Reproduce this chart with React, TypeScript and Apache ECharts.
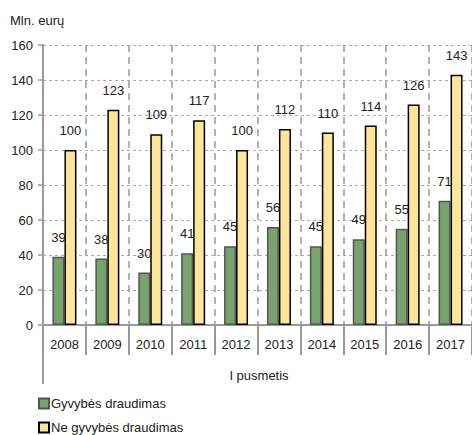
import React, { useEffect, useRef } from "react";
import * as echarts from "echarts";

const categories = ["2008", "2009", "2010", "2011", "2012", "2013", "2014", "2015", "2016", "2017"];
const lifeInsurance = [39, 38, 30, 41, 45, 56, 45, 49, 55, 71];
const nonLifeInsurance = [100, 123, 109, 117, 100, 112, 110, 114, 126, 143];
const yTicks = [0, 20, 40, 60, 80, 100, 120, 140, 160];
const seriesNames = ["Gyvybės draudimas", "Ne gyvybės draudimas"];

const FONT = "Liberation Sans, Arial, sans-serif";

export default function App() {
  const ref = useRef<HTMLDivElement>(null);
  useEffect(() => {
    document.body.style.margin = "0";
    const chart = echarts.init(ref.current!, null, { renderer: "svg" });
    const labelStyle = {
      show: true,
      position: "top" as const,
      distance: 13,
      color: "#222",
      fontSize: 13,
      fontFamily: FONT,
    };
    const legendBase = {
      orient: "horizontal",
      left: 38,
      itemWidth: 10,
      itemHeight: 10,
      icon: "rect",
      padding: 0,
      textStyle: { color: "#222", fontSize: 13, fontFamily: FONT, padding: [0, 0, 0, -3] },
    };
    chart.setOption({
      animation: false,
      backgroundColor: "#fff",
      textStyle: { fontFamily: FONT },
      grid: { left: 43, right: -2, top: 45, bottom: 110, containLabel: false },
      xAxis: {
        type: "category",
        data: categories,
        axisLine: { show: true, lineStyle: { color: "#999", width: 2 } },
        axisTick: { show: true, length: 30, lineStyle: { color: "#999", width: 2 } },
        axisLabel: { color: "#222", fontSize: 13, fontFamily: FONT, margin: 13 },
        splitLine: { show: true, lineStyle: { color: "#999", type: [7, 5], width: 1.5 } },
      },
      yAxis: {
        type: "value",
        min: yTicks[0],
        max: yTicks[yTicks.length - 1],
        interval: 20,
        axisLine: { show: true, lineStyle: { color: "#999", width: 2 } },
        axisTick: { show: true, inside: false, length: 5, lineStyle: { color: "#999", width: 1.5 } },
        axisLabel: { color: "#222", fontSize: 13, fontFamily: FONT, margin: 10 },
        splitLine: { show: true, lineStyle: { color: "#aaa", type: [3, 3], width: 1 } },
      },
      legend: [
        { ...legendBase, top: 397, data: [seriesNames[0]] },
        { ...legendBase, top: 421, data: [seriesNames[1]] },
      ],
      graphic: [
        {
          type: "line",
          shape: { x1: 43, y1: 325, x2: 43, y2: 384 },
          style: { stroke: "#999", lineWidth: 2 },
        },
        {
          type: "text",
          x: 259,
          y: 375,
          style: {
            text: "I pusmetis",
            fill: "#222",
            font: `13px ${FONT}`,
            textAlign: "center",
            textVerticalAlign: "middle",
          },
        },
        {
          type: "text",
          x: 10,
          y: 20,
          style: {
            text: "Mln. eurų",
            fill: "#222",
            font: `13px ${FONT}`,
            textAlign: "left",
            textVerticalAlign: "middle",
          },
        },
      ],
      series: [
        {
          name: seriesNames[0],
          type: "bar",
          data: lifeInsurance,
          barWidth: 12,
          barGap: "0%",
          itemStyle: { color: "#77a36d", borderColor: "#555", borderWidth: 1.5 },
          label: labelStyle,
        },
        {
          name: seriesNames[1],
          type: "bar",
          data: nonLifeInsurance,
          barWidth: 12,
          barGap: "0%",
          itemStyle: { color: "#fde699", borderColor: "#000", borderWidth: 1.5 },
          label: labelStyle,
        },
      ],
    });
    return () => chart.dispose();
  }, []);
  return (
    <div
      ref={ref}
      style={{ position: "absolute", left: 0, top: 0, width: 472, height: 435 }}
    />
  );
}
